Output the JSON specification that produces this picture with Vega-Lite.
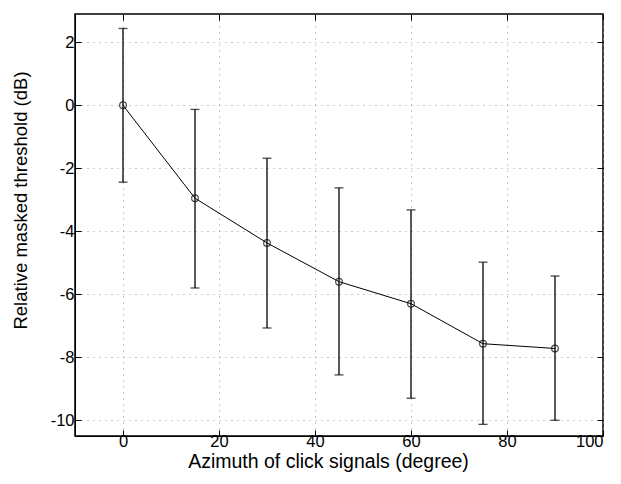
{
  "$schema": "https://vega.github.io/schema/vega-lite/v6.json",
  "autosize": "none",
  "width": 528,
  "height": 422,
  "padding": {"left": 75, "top": 14, "right": 18, "bottom": 48},
  "background": "white",
  "config": {
    "font": "Liberation Sans",
    "view": {"stroke": "black", "strokeWidth": 1.5},
    "axis": {"labelFont": "Liberation Sans", "titleFont": "Liberation Sans", "labelColor": "black", "titleColor": "black", "titleFontWeight": "normal", "labelFontSize": 16.5, "titleFontSize": 19, "domainColor": "black", "tickColor": "black", "gridColor": "#999", "gridDash": [1, 5], "gridWidth": 1}
  },
  "resolve": {"axis": {"x": "independent", "y": "independent"}},
  "data": {"values": [
    {"az": 0, "thr": 0, "lo": -2.44, "hi": 2.44},
    {"az": 15, "thr": -2.95, "lo": -5.8, "hi": -0.13},
    {"az": 30, "thr": -4.37, "lo": -7.07, "hi": -1.68},
    {"az": 45, "thr": -5.6, "lo": -8.56, "hi": -2.62},
    {"az": 60, "thr": -6.3, "lo": -9.3, "hi": -3.32},
    {"az": 75, "thr": -7.57, "lo": -10.13, "hi": -4.98},
    {"az": 90, "thr": -7.72, "lo": -10.0, "hi": -5.42}
  ]},
  "layer": [
    {
      "mark": {"type": "rule", "color": "black", "strokeWidth": 1.3},
      "encoding": {
        "x": {"field": "az", "type": "quantitative", "scale": {"domain": [-10, 100], "nice": false, "zero": false}, "axis": {"values": [0, 20, 40, 60, 80, 100], "title": "Azimuth of click signals (degree)", "labelExpr": "'' + datum.value", "tickSize": -6, "labelPadding": 3, "titlePadding": 3, "titleFontSize": 19.5, "titleX": 253, "grid": true}},
        "y": {"field": "lo", "type": "quantitative", "scale": {"domain": [-10.5, 2.9], "nice": false, "zero": false}, "axis": {"values": [-10, -8, -6, -4, -2, 0, 2], "title": "Relative masked threshold (dB)", "labelExpr": "'' + datum.value", "tickSize": -6, "labelPadding": 7, "titlePadding": 20, "titleFontSize": 18.5, "titleY": 186, "grid": true}},
        "y2": {"field": "hi"}
      }
    },
    {
      "mark": {"type": "tick", "color": "black", "orient": "horizontal", "size": 9, "thickness": 1.3},
      "encoding": {
        "x": {"field": "az", "type": "quantitative", "axis": null},
        "y": {"field": "lo", "type": "quantitative", "axis": null}
      }
    },
    {
      "mark": {"type": "tick", "color": "black", "orient": "horizontal", "size": 9, "thickness": 1.3},
      "encoding": {
        "x": {"field": "az", "type": "quantitative", "axis": null},
        "y": {"field": "hi", "type": "quantitative", "axis": null}
      }
    },
    {
      "mark": {"type": "line", "color": "black", "strokeWidth": 1},
      "encoding": {
        "x": {"field": "az", "type": "quantitative", "axis": null},
        "y": {"field": "thr", "type": "quantitative", "axis": null}
      }
    },
    {
      "mark": {"type": "point", "shape": "circle", "filled": false, "color": "black", "size": 45, "strokeWidth": 1.2},
      "encoding": {
        "x": {"field": "az", "type": "quantitative", "axis": {"orient": "top", "values": [0, 20, 40, 60, 80, 100], "labels": false, "title": null, "tickSize": -6, "domain": false, "grid": false}},
        "y": {"field": "thr", "type": "quantitative", "axis": {"orient": "right", "values": [-10, -8, -6, -4, -2, 0, 2], "labels": false, "title": null, "tickSize": -6, "domain": false, "grid": false}}
      }
    }
  ]
}
